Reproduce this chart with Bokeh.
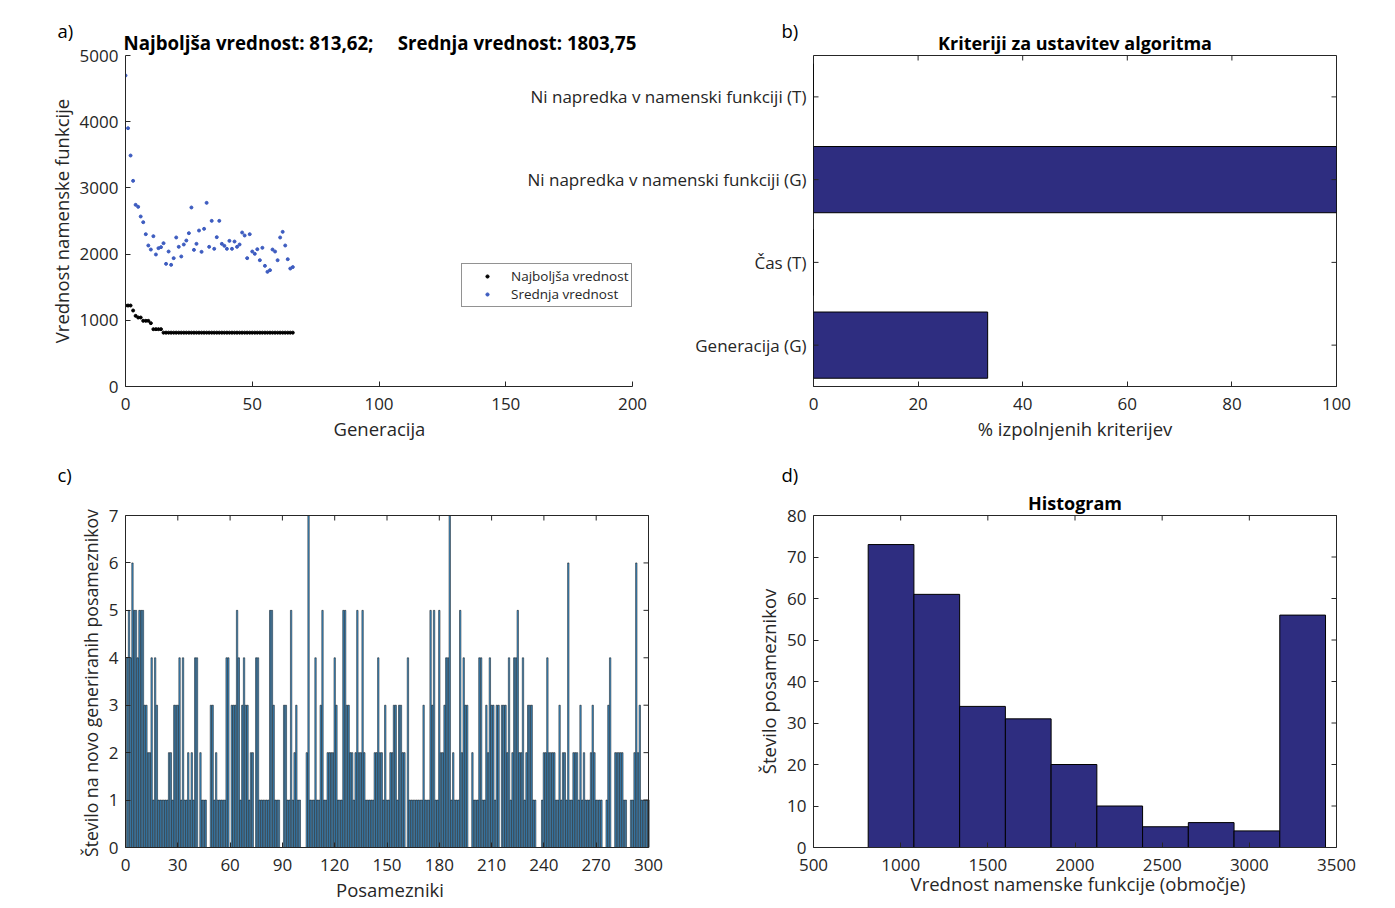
from bokeh.plotting import figure
from bokeh.models import Range1d, Label, FixedTicker, Legend, LegendItem, Title
from bokeh.layouts import row, column
from bokeh.embed import file_html
from bokeh.resources import INLINE

FONT = "Open Sans"
AX = "#262626"
NAVY = "#2e2d80"
TICK_FS = "17px"
LAB_FS = "18.5px"
TITLE_FS = "18px"
TICK_LEN = 5
NBSP = "\u00a0"

# ---------------- data ----------------
generations = list(range(0, 67))
best_values = [1223, 1223, 1223, 1148, 1067, 1042, 1042, 992, 992, 992,
               957, 866, 866, 866, 866, 813.62, 813.62, 813.62, 813.62, 813.62,
               813.62, 813.62, 813.62, 813.62, 813.62, 813.62, 813.62, 813.62, 813.62, 813.62,
               813.62, 813.62, 813.62, 813.62, 813.62, 813.62, 813.62, 813.62, 813.62, 813.62,
               813.62, 813.62, 813.62, 813.62, 813.62, 813.62, 813.62, 813.62, 813.62, 813.62,
               813.62, 813.62, 813.62, 813.62, 813.62, 813.62, 813.62, 813.62, 813.62, 813.62,
               813.62, 813.62, 813.62, 813.62, 813.62, 813.62, 813.62]
mean_values = [4698, 3902, 3489, 3107, 2744, 2714, 2568, 2482, 2301, 2130,
               2069, 2271, 1994, 2090, 2105, 2165, 1853, 2039, 1838, 1939,
               2251, 2110, 1964, 2145, 2205, 2316, 2704, 2064, 2155, 2356,
               2034, 2382, 2774, 2110, 2502, 2080, 2256, 2502, 2155, 2125,
               2080, 2200, 2080, 2190, 2110, 2145, 2326, 2281, 1939, 2301,
               2039, 2004, 2074, 1908, 2095, 1823, 1732, 1757, 2069, 2039,
               1908, 2251, 2336, 2130, 1923, 1782, 1803.75]

criteria = ["Generacija (G)", "Čas (T)",
            "Ni napredka v namenski funkciji (G)", "Ni napredka v namenski funkciji (T)"]
criteria_pos = [1, 2, 3, 4]
criteria_pct = [33.3, 0, 100, 0]

individuals = list(range(1, 301))
offspring_counts = [
    4, 5, 4, 6, 5, 5, 4, 5, 5, 5,
    3, 3, 2, 2, 4, 1, 4, 3, 1, 1,
    1, 1, 1, 1, 2, 2, 1, 3, 3, 3,
    4, 1, 4, 1, 1, 2, 1, 2, 1, 4,
    4, 0, 2, 1, 1, 1, 0, 0, 3, 3,
    1, 2, 1, 1, 1, 1, 1, 4, 4, 0,
    3, 3, 3, 5, 4, 1, 3, 4, 3, 3,
    1, 2, 2, 0, 4, 4, 1, 1, 1, 1,
    1, 1, 5, 5, 3, 1, 1, 1, 0, 0,
    3, 3, 1, 1, 5, 1, 2, 3, 1, 1,
    0, 0, 0, 2, 7, 1, 1, 1, 4, 1,
    1, 3, 5, 1, 1, 2, 2, 2, 2, 4,
    3, 1, 1, 1, 5, 5, 3, 3, 2, 2,
    1, 2, 5, 2, 2, 5, 2, 1, 1, 1,
    1, 1, 2, 2, 4, 2, 2, 1, 3, 1,
    1, 2, 2, 3, 3, 1, 3, 3, 2, 2,
    0, 4, 1, 1, 1, 1, 1, 1, 1, 1,
    3, 1, 1, 1, 5, 3, 5, 1, 1, 5,
    2, 2, 3, 4, 4, 7, 1, 2, 1, 1,
    1, 5, 2, 4, 3, 3, 0, 0, 2, 1,
    1, 1, 4, 4, 1, 1, 3, 2, 4, 3,
    3, 1, 3, 3, 0, 3, 3, 3, 2, 4,
    1, 2, 4, 4, 5, 2, 2, 4, 1, 2,
    3, 3, 3, 1, 1, 0, 0, 0, 1, 2,
    2, 4, 2, 2, 2, 2, 1, 1, 3, 1,
    2, 2, 1, 6, 1, 1, 2, 2, 2, 1,
    3, 1, 2, 1, 1, 1, 2, 3, 2, 1,
    1, 1, 1, 0, 0, 1, 3, 4, 0, 0,
    2, 2, 2, 2, 2, 1, 1, 0, 0, 1,
    1, 2, 6, 2, 3, 1, 1, 1, 1, 1]

hist_counts = [73, 61, 34, 31, 20, 10, 5, 6, 4, 56]
hist_lo = 813.62
hist_hi = 3437.0

a_xticks = [0, 50, 100, 150, 200]
a_yticks = [0, 1000, 2000, 3000, 4000, 5000]
b_xticks = [0, 20, 40, 60, 80, 100]
c_xticks = list(range(0, 301, 30))
c_yticks = list(range(0, 8))
d_xticks = [500, 1000, 1500, 2000, 2500, 3000, 3500]
d_yticks = list(range(0, 81, 10))

nb = len(hist_counts)
bw = (hist_hi - hist_lo) / nb
hist_left = [hist_lo + i * bw for i in range(nb)]
hist_right = [hist_lo + (i + 1) * bw for i in range(nb)]


# ---------------- helpers ----------------
def style_axis(ax, xdir):
    ax.axis_line_color = AX
    ax.major_tick_line_color = AX
    ax.major_tick_in = TICK_LEN
    ax.major_tick_out = 0
    ax.minor_tick_line_color = None
    ax.major_label_text_font = FONT
    ax.major_label_text_font_size = TICK_FS
    ax.major_label_text_color = AX
    ax.axis_label_text_font = FONT
    ax.axis_label_text_font_size = LAB_FS
    ax.axis_label_text_font_style = "normal"
    ax.axis_label_text_color = AX
    ax.major_label_standoff = 11 if xdir else 7
    ax.axis_label_standoff = 3


def make_fig(w, h, l, r, t, b, xr, yr):
    p = figure(width=w, height=h, x_range=Range1d(*xr), y_range=Range1d(*yr),
               output_backend="svg", toolbar_location=None,
               min_border_left=l, min_border_right=r, min_border_top=t, min_border_bottom=b)
    p.xgrid.visible = False
    p.ygrid.visible = False
    p.background_fill_color = "white"
    p.border_fill_color = "white"
    p.outline_line_color = None
    p.title.visible = False
    return p


def add_title(p, text, align, offset, standoff, bold=True, size=TITLE_FS,
              side="above", valign="bottom", color="black"):
    t = Title(text=text, align=align, offset=offset, standoff=standoff,
              text_font=FONT, text_font_size=size,
              text_font_style="bold" if bold else "normal",
              text_color=color, vertical_align=valign)
    p.add_layout(t, side)


def tick_segments(p, xs0, ys0, xs1, ys1):
    p.segment(x0=xs0, y0=ys0, x1=xs1, y1=ys1, line_color=AX, line_width=1)


# ---------------- panel a ----------------
A_W, A_H = 807, 455
A_L, A_T, A_FW, A_FH = 125, 55, 507, 331
A_XMAX, A_YMAX = 200.0, 5000.0
a_xpp = A_XMAX / A_FW           # data units per pixel
pA = make_fig(A_W, A_H, A_L, 0, A_T, A_H - A_T - A_FH,
              (0, (A_W - A_L) * a_xpp), (0, A_YMAX))
pA.xaxis.ticker = FixedTicker(ticks=a_xticks)
pA.yaxis.ticker = FixedTicker(ticks=a_yticks)
pA.xaxis.bounds = (0, A_XMAX)
pA.yaxis.bounds = (0, A_YMAX)
pA.yaxis.axis_label = "Vrednost namenske funkcije"
style_axis(pA.xaxis[0], True)
style_axis(pA.yaxis[0], False)
r_best = pA.scatter(generations, best_values, size=3, color="black", marker="circle")
r_mean = pA.scatter(generations, mean_values, size=3, color="#3d5cc0", marker="circle")
leg = Legend(items=[LegendItem(label="Najboljša vrednost", renderers=[r_best]),
                    LegendItem(label="Srednja vrednost", renderers=[r_mean])],
             location=(336, 79))
leg.label_text_font = FONT
leg.label_text_font_size = "13.5px"
leg.label_text_color = AX
leg.border_line_color = AX
leg.border_line_width = 1
leg.padding = 3
leg.spacing = 0
leg.margin = 0
leg.glyph_width = 44
leg.glyph_height = 8
leg.label_height = 16
leg.label_standoff = 2
pA.add_layout(leg)

# x-axis label of panel a, centred under the visible axis (0..200)
add_title(pA, "Generacija", "left", 208, 6, bold=False, size=LAB_FS,
          side="below", valign="top", color=AX)

# titles above panel a (inner first)
add_title(pA, "Najboljša vrednost: 813,62;" + NBSP * 4 + " Srednja vrednost: 1803,75",
          "left", -2, 2, size="18.7px")
add_title(pA, "a)", "left", 57 - A_L, -33, bold=False, size=LAB_FS)
add_title(pA, "b)", "left", 781 - A_L, -33, bold=False, size=LAB_FS)

# category labels of panel b, drawn left of its frame
for pos, name in zip(criteria_pos, criteria):
    yc = (pos - 0.5) * A_YMAX / 4.0
    pA.add_layout(Label(x=(806 - A_L) * a_xpp, y=yc, text=name, text_font=FONT,
                        text_font_size=TICK_FS, text_color=AX,
                        text_align="right", text_baseline="middle"))

# ---------------- panel b ----------------
B_W, B_H = 1395 - A_W, 455
B_L, B_FW, B_FH = 813 - A_W, 523, 331
pB = make_fig(B_W, B_H, B_L, B_W - B_L - B_FW, 55, B_H - 55 - B_FH, (0, 100), (0.5, 4.5))
pB.outline_line_color = AX
add_title(pB, "Kriteriji za ustavitev algoritma", "center", 0, 2)
pB.xaxis.ticker = FixedTicker(ticks=b_xticks)
pB.xaxis.axis_label = "% izpolnjenih kriterijev"
style_axis(pB.xaxis[0], True)
pB.yaxis.visible = False
pB.hbar(y=criteria_pos, right=criteria_pct, left=0, height=0.8,
        fill_color=NAVY, line_color="black", line_width=1)
bdx = TICK_LEN * 100.0 / B_FW
bdy = TICK_LEN * 4.0 / B_FH
tick_segments(pB, [0] * 4 + [100] * 4, criteria_pos * 2,
              [bdx] * 4 + [100 - bdx] * 4, criteria_pos * 2)
tick_segments(pB, b_xticks, [4.5] * len(b_xticks), b_xticks, [4.5 - bdy] * len(b_xticks))

# ---------------- bottom row geometry ----------------
R2_H = 453
R2_TOP = 31          # frame top (extended above the visible box)
R2_BOX_TOP = 60      # visible box top
R2_FH = 332          # visible box height
R2_B = R2_H - R2_BOX_TOP - R2_FH
RIGHT_EXT = 6

# ---------------- panel c ----------------
C_W = 700
C_L, C_FW = 125, 523
c_xpp = 300.0 / C_FW
c_ypp = 7.0 / R2_FH
pC = make_fig(C_W, R2_H, C_L, C_W - C_L - C_FW - RIGHT_EXT, R2_TOP, R2_B,
              (0, 300 + RIGHT_EXT * c_xpp), (0, 7 + (R2_BOX_TOP - R2_TOP) * c_ypp))
pC.xaxis.ticker = FixedTicker(ticks=c_xticks)
pC.yaxis.ticker = FixedTicker(ticks=c_yticks)
pC.xaxis.bounds = (0, 300)
pC.yaxis.bounds = (0, 7)
pC.xaxis.axis_label = "Posamezniki"
# trailing no-break spaces keep the rotated label centred on the visible box
pC.yaxis.axis_label = "Število na novo generiranih posameznikov" + NBSP * 7
style_axis(pC.xaxis[0], True)
style_axis(pC.yaxis[0], False)
pC.yaxis[0].axis_label_text_font_size = "17.7px"
pC.vbar(x=individuals, top=offspring_counts, width=0.8,
        fill_color="#4a9fdc", line_color="black", line_width=0.5)
tick_segments(pC, [0, 300], [7, 0], [300, 300], [7, 7])
cdx = TICK_LEN * c_xpp
cdy = TICK_LEN * c_ypp
tick_segments(pC, c_xticks, [7] * len(c_xticks), c_xticks, [7 - cdy] * len(c_xticks))
tick_segments(pC, [300] * len(c_yticks), c_yticks, [300 - cdx] * len(c_yticks), c_yticks)
add_title(pC, "c)", "left", 57 - C_L, 0, bold=False, size=LAB_FS)

# ---------------- panel d ----------------
D_W = 1395 - C_W
D_L, D_FW = 813 - C_W, 523
d_xpp = 3000.0 / D_FW
d_ypp = 80.0 / R2_FH
pD = make_fig(D_W, R2_H, D_L, D_W - D_L - D_FW - RIGHT_EXT, R2_TOP, R2_B,
              (500, 3500 + RIGHT_EXT * d_xpp), (0, 80 + (R2_BOX_TOP - R2_TOP) * d_ypp))
pD.xaxis.ticker = FixedTicker(ticks=d_xticks)
pD.yaxis.ticker = FixedTicker(ticks=d_yticks)
pD.xaxis.bounds = (500, 3500)
pD.yaxis.bounds = (0, 80)
pD.xaxis.axis_label = "Vrednost namenske funkcije (območje)"
pD.yaxis.axis_label = "Število posameznikov" + NBSP * 6
style_axis(pD.xaxis[0], True)
style_axis(pD.yaxis[0], False)
pD.xaxis[0].axis_label_standoff = -3
pD.quad(left=hist_left, right=hist_right, bottom=0, top=hist_counts,
        fill_color=NAVY, line_color="black", line_width=1)
tick_segments(pD, [500, 3500], [80, 0], [3500, 3500], [80, 80])
ddx = TICK_LEN * d_xpp
ddy = TICK_LEN * d_ypp
tick_segments(pD, d_xticks, [80] * len(d_xticks), d_xticks, [80 - ddy] * len(d_xticks))
tick_segments(pD, [3500] * len(d_yticks), d_yticks, [3500 - ddx] * len(d_yticks), d_yticks)
pD.add_layout(Label(x=2000, y=80 + (R2_BOX_TOP - 47) * d_ypp, text="Histogram",
                    text_font=FONT, text_font_size=TITLE_FS, text_font_style="bold",
                    text_color="black", text_align="center", text_baseline="middle"))
add_title(pD, "d)", "left", 781 - 813, 0, bold=False, size=LAB_FS)

layout = column(row(pA, pB), row(pC, pD))
open("out.html", "w").write(file_html(layout, INLINE))
